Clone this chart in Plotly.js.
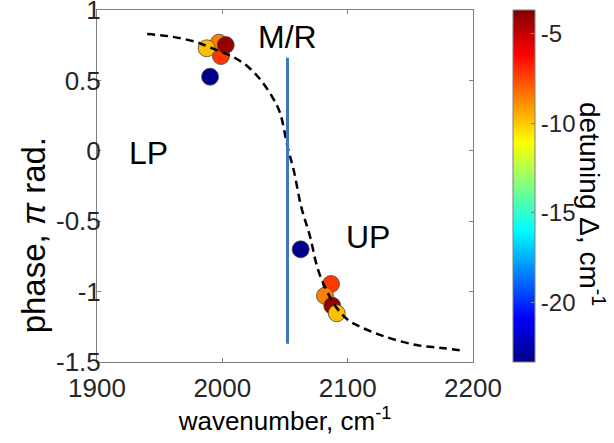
<!DOCTYPE html>
<html>
<head>
<meta charset="utf-8">
<script src="https://cdn.plot.ly/plotly-3.0.1.min.js"></script>
<style>
  html, body { margin: 0; padding: 0; background: #fff; }
  #chart { width: 614px; height: 443px; }
</style>
</head>
<body>
<div id="chart"></div>
<script>
// Measured phase of the lower (LP) and upper (UP) polariton branches
const wavenumber = [1998.9, 1997.3, 2002.7, 1987.5, 1990.2,
                    2086.7, 2081.9, 2087.7, 2091.3, 2062.5];
const phase      = [0.673, 0.768, 0.751, 0.728, 0.526,
                    -0.946, -1.03, -1.10, -1.154, -0.70];
const detuning   = [-7.2, -8.6, -4.1, -9.8, -23.1,
                    -7.2, -8.6, -4.1, -9.8, -23.1];

// Model phase curve
const modelWavenumber = [1940, 1960, 1980, 1990, 2000, 2010, 2020, 2030, 2040, 2046,
                         2052, 2057, 2063, 2070, 2076, 2082, 2090, 2100, 2110, 2130,
                         2155, 2175, 2192];
const modelPhase      = [0.83, 0.81, 0.77, 0.735, 0.70, 0.66, 0.60, 0.51, 0.38, 0.27,
                         0.03, -0.14, -0.40, -0.61, -0.835, -0.97, -1.10, -1.20, -1.25, -1.32,
                         -1.38, -1.40, -1.42];

// Molecular resonance marker (M/R)
const resonanceX = [2052, 2052];
const resonanceY = [0.66, -1.37];

// Tick labels
const xTicks = [1900, 2000, 2100, 2200];
const xTickText = ['1900', '2000', '2100', '2200'];
const yTicks = [-1.5, -1, -0.5, 0, 0.5, 1];
const yTickText = ['-1.5', '-1', '-0.5', '0', '0.5', '1'];
const cTicks = [-20, -15, -10, -5];
const cTickText = ['-20', '-15', '-10', '-5'];

const FONT = 'Liberation Sans, Arial, Helvetica, sans-serif';
const TEXT = '#262626';
const AXIS = 'rgb(128,128,128)';

const jet = [
  [0, 'rgb(0,0,131)'],
  [0.125, 'rgb(0,0,255)'],
  [0.375, 'rgb(0,255,255)'],
  [0.625, 'rgb(255,255,0)'],
  [0.875, 'rgb(255,0,0)'],
  [1, 'rgb(128,0,0)']
];

const points = {
  x: wavenumber, y: phase, type: 'scatter', mode: 'markers',
  marker: {
    size: 17, color: detuning, colorscale: jet, cmin: -23.3, cmax: -3.7,
    line: { color: 'rgb(70,70,70)', width: 0.8 },
    colorbar: {
      thickness: 22, thicknessmode: 'pixels',
      len: 1, lenmode: 'fraction',
      x: 1.106, xanchor: 'left', y: 0.5, yanchor: 'middle',
      xpad: 0, ypad: 0,
      outlinewidth: 1, outlinecolor: AXIS,
      tickmode: 'array', tickvals: cTicks, ticktext: cTickText,
      ticks: 'inside', ticklen: 4, tickcolor: AXIS,
      tickfont: { family: FONT, size: 24, color: TEXT }
    }
  },
  showlegend: false, hoverinfo: 'skip'
};

const model = {
  x: modelWavenumber, y: modelPhase, type: 'scatter', mode: 'lines',
  line: { color: 'black', width: 2.5, dash: '8px,5px', shape: 'spline' },
  showlegend: false, hoverinfo: 'skip'
};

const resonance = {
  x: resonanceX, y: resonanceY, type: 'scatter', mode: 'lines',
  line: { color: 'rgb(68,114,196)', width: 3 },
  showlegend: false, hoverinfo: 'skip'
};

const label = (text, x, y) => ({
  text, x, y, xref: 'x', yref: 'y', showarrow: false,
  font: { family: FONT, size: 32, color: 'black' }
});

const layout = {
  width: 614, height: 443,
  margin: { l: 97, r: 141, t: 10, b: 81 },
  paper_bgcolor: 'white', plot_bgcolor: 'white',
  font: { family: FONT, color: TEXT },
  xaxis: {
    range: [1900, 2200], tickmode: 'array', tickvals: xTicks, ticktext: xTickText,
    showgrid: false, zeroline: false,
    showline: true, linecolor: AXIS, linewidth: 1, mirror: 'ticks',
    ticks: 'inside', ticklen: 4, tickcolor: AXIS, ticklabelstandoff: 3,
    ticklabeloverflow: 'allow',
    tickfont: { family: FONT, size: 26, color: TEXT },
    title: { text: 'wavenumber, cm<sup>-1</sup>', font: { family: FONT, size: 26, color: 'black' }, standoff: 6 }
  },
  yaxis: {
    range: [-1.5, 1], tickmode: 'array', tickvals: yTicks, ticktext: yTickText,
    showgrid: false, zeroline: false,
    showline: true, linecolor: AXIS, linewidth: 1, mirror: 'ticks',
    ticks: 'inside', ticklen: 4, tickcolor: AXIS, ticklabelstandoff: -10,
    ticklabeloverflow: 'allow',
    tickfont: { family: FONT, size: 26, color: TEXT }
  },
  annotations: [
    label('M/R', 2051.6, 0.81),
    label('LP', 1940.7, -0.015),
    label('UP', 2116.2, -0.61),
    {
      // y-axis title, placed by hand
      text: 'phase, <i>π</i> rad.', textangle: -90,
      xref: 'paper', yref: 'paper', x: -0.17, y: 0.36,
      xanchor: 'center', yanchor: 'middle', showarrow: false,
      font: { family: FONT, size: 33, color: 'black' }
    },
    {
      // colorbar title
      text: 'detuning Δ, cm<sup>-1</sup>', textangle: 90,
      xref: 'paper', yref: 'paper', x: 1.318, y: 0.45,
      xanchor: 'center', yanchor: 'middle', showarrow: false,
      font: { family: FONT, size: 28, color: 'black' }
    }
  ]
};

Plotly.newPlot('chart', [points, model, resonance], layout, { displayModeBar: false, staticPlot: true });
</script>
</body>
</html>
